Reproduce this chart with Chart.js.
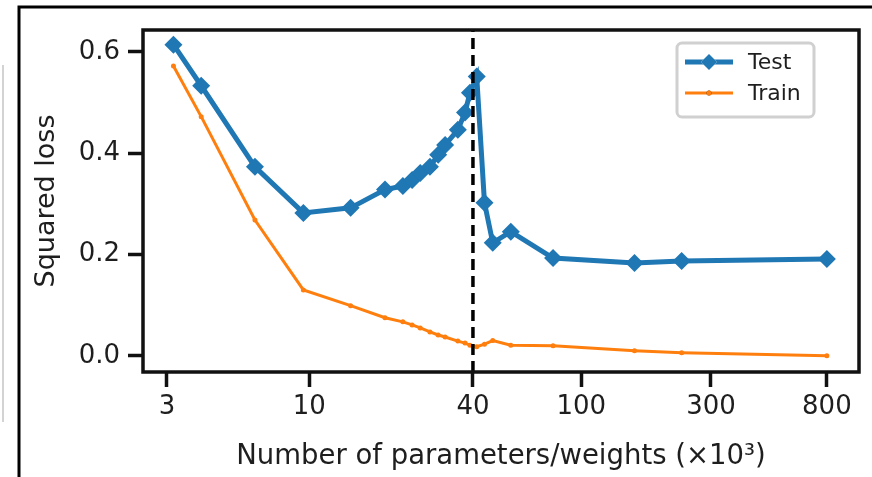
<!DOCTYPE html>
<html>
<head>
<meta charset="utf-8">
<script src="https://cdn.jsdelivr.net/npm/chart.js@4.4.1/dist/chart.umd.min.js"></script>
<style>
  html, body { margin: 0; padding: 0; background: #fff; }
  #wrap { width: 872px; height: 477px; }
</style>
</head>
<body>
<div id="wrap"><canvas id="chart" width="872" height="477"></canvas></div>
<script>
// ─── Data ─────────────────────────────────────────────────────────────────────

// number of parameters/weights, in thousands
const paramsK = [3.17, 4.01, 6.32, 9.52, 14.2, 19.0, 22.1, 23.9, 25.6, 27.8, 29.8,
  31.6, 35.2, 37.4, 39.0, 41.3, 44.1, 47.3, 55.1, 78.8, 157, 234, 800];

const testLoss = [0.614, 0.533, 0.373, 0.282, 0.292, 0.328, 0.335, 0.347, 0.361,
  0.373, 0.397, 0.416, 0.446, 0.480, 0.519, 0.551, 0.302, 0.223, 0.245, 0.193,
  0.183, 0.187, 0.191];

const trainLoss = [0.572, 0.472, 0.268, 0.130, 0.099, 0.075, 0.067, 0.061, 0.055,
  0.047, 0.041, 0.037, 0.029, 0.025, 0.021, 0.018, 0.023, 0.030, 0.021, 0.020,
  0.010, 0.006, 0.000];

const seriesNames = ["Test", "Train"];
const xTicks = [3, 10, 40, 100, 300, 800];
const yTicks = [0.0, 0.2, 0.4, 0.6];
const xRange = [2.45, 1050];
const yRange = [-0.032, 0.643];
const thresholdX = 40; // interpolation threshold (dashed line)

const xTitle = "Number of parameters/weights (\u00d710\u00b3)";
const yTitle = "Squared loss";

// ─── Style ────────────────────────────────────────────────────────────────────

const FONT = "'DejaVu Sans', 'Liberation Sans', sans-serif";
const BLUE = "#1f77b4";
const ORANGE = "#ff7f0e";
const INK = "#1e1e1e";

const toPoints = (ys) => paramsK.map((x, i) => ({ x, y: ys[i] }));

// ─── Plugins: outer frame, plot box, legend box ──────────────────────────────

const framePlugin = {
  id: "frame",
  beforeDraw(chart) {
    const ctx = chart.ctx;
    ctx.save();
    ctx.fillStyle = "#fff";
    ctx.fillRect(0, 0, chart.width, chart.height);
    // page frame the figure was cut from
    ctx.strokeStyle = "#000";
    ctx.lineWidth = 3;
    ctx.beginPath();
    ctx.moveTo(19, chart.height + 2);
    ctx.lineTo(19, 7);
    ctx.lineTo(chart.width + 2, 7);
    ctx.stroke();
    ctx.strokeStyle = "#c4c4c4";
    ctx.lineWidth = 1.5;
    ctx.beginPath();
    ctx.moveTo(3, 65);
    ctx.lineTo(3, 422);
    ctx.stroke();
    ctx.restore();
  },
  afterDatasetsDraw(chart) {
    const { ctx, chartArea: a } = chart;
    ctx.save();
    ctx.strokeStyle = "#111";
    ctx.lineWidth = 3.5;
    ctx.strokeRect(a.left, a.top, a.right - a.left, a.bottom - a.top);
    ctx.restore();
  },
};

const legendPlugin = {
  id: "boxLegend",
  afterDraw(chart) {
    const { ctx, chartArea: a } = chart;
    const w = 137, h = 74;
    const x0 = a.right - 45 - w, y0 = a.top + 13;
    ctx.save();
    ctx.fillStyle = "rgba(255,255,255,0.9)";
    ctx.strokeStyle = "#d0d0d0";
    ctx.lineWidth = 3;
    ctx.beginPath();
    ctx.roundRect(x0, y0, w, h, 5);
    ctx.fill();
    ctx.stroke();

    const items = chart.data.datasets.filter((d) => seriesNames.includes(d.label));
    items.forEach((d, i) => {
      const cy = y0 + 19 + i * 31;
      ctx.strokeStyle = d.borderColor;
      ctx.lineWidth = d.borderWidth;
      ctx.beginPath();
      ctx.moveTo(x0 + 8, cy);
      ctx.lineTo(x0 + 56, cy);
      ctx.stroke();
      Chart.helpers.drawPoint(ctx, {
        pointStyle: d.pointStyle,
        radius: i === 0 ? 8 : 2.5,
        borderWidth: 0,
        rotation: 0,
      }, x0 + 32, cy);
      ctx.fillStyle = d.pointBackgroundColor;
      ctx.fill();
      ctx.fillStyle = INK;
      ctx.font = "22px " + FONT;
      ctx.textBaseline = "middle";
      ctx.textAlign = "left";
      ctx.fillText(d.label, x0 + 71, cy + 1);
    });
    ctx.restore();
  },
};

// ─── Chart ────────────────────────────────────────────────────────────────────

new Chart(document.getElementById("chart"), {
  type: "line",
  data: {
    datasets: [
      {
        label: "threshold",
        data: [{ x: thresholdX, y: yRange[0] }, { x: thresholdX, y: yRange[1] }],
        borderColor: "#000",
        borderWidth: 3.5,
        borderDash: [11, 6],
        pointRadius: 0,
        order: 0,
      },
      {
        label: seriesNames[0],
        data: toPoints(testLoss),
        borderColor: BLUE,
        backgroundColor: BLUE,
        pointBackgroundColor: BLUE,
        borderWidth: 5,
        pointStyle: "rectRot",
        pointRadius: 9,
        pointBorderWidth: 0,
        tension: 0,
        order: 1,
      },
      {
        label: seriesNames[1],
        data: toPoints(trainLoss),
        borderColor: ORANGE,
        backgroundColor: ORANGE,
        pointBackgroundColor: ORANGE,
        borderWidth: 3,
        pointStyle: "circle",
        pointRadius: 2.5,
        pointBorderWidth: 0,
        tension: 0,
        order: 2,
      },
    ],
  },
  options: {
    responsive: false,
    animation: false,
    devicePixelRatio: 1,
    layout: { padding: { left: 0, top: 30, right: 13, bottom: 0 } },
    plugins: {
      legend: { display: false },
      tooltip: { enabled: false },
    },
    scales: {
      x: {
        type: "logarithmic",
        min: xRange[0],
        max: xRange[1],
        afterFit: (s) => { s.height = 105; },
        afterBuildTicks: (s) => { s.ticks = xTicks.map((v) => ({ value: v })); },
        border: { display: false },
        grid: {
          display: true, drawOnChartArea: false, drawTicks: true,
          tickLength: 15, tickWidth: 3.5, tickColor: "#111",
        },
        ticks: {
          autoSkip: false, maxRotation: 0, padding: 5, color: INK,
          font: { family: FONT, size: 26 },
          callback: (v) => String(v),
        },
        title: {
          display: true, text: xTitle, color: INK,
          font: { family: FONT, size: 27.5 },
          padding: { top: 0, bottom: 4 },
        },
      },
      y: {
        type: "linear",
        min: yRange[0],
        max: yRange[1],
        afterFit: (s) => { s.width = 143; },
        afterBuildTicks: (s) => { s.ticks = yTicks.map((v) => ({ value: v })); },
        border: { display: false },
        grid: {
          display: true, drawOnChartArea: false, drawTicks: true,
          tickLength: 15, tickWidth: 3.5, tickColor: "#111",
        },
        ticks: {
          padding: 8, color: INK,
          font: { family: FONT, size: 26 },
          callback: (v) => v.toFixed(1),
        },
        title: {
          display: true, text: yTitle, color: INK,
          font: { family: FONT, size: 27 },
          padding: { top: 31, bottom: 0 },
        },
      },
    },
  },
  plugins: [framePlugin, legendPlugin],
});
</script>
</body>
</html>
